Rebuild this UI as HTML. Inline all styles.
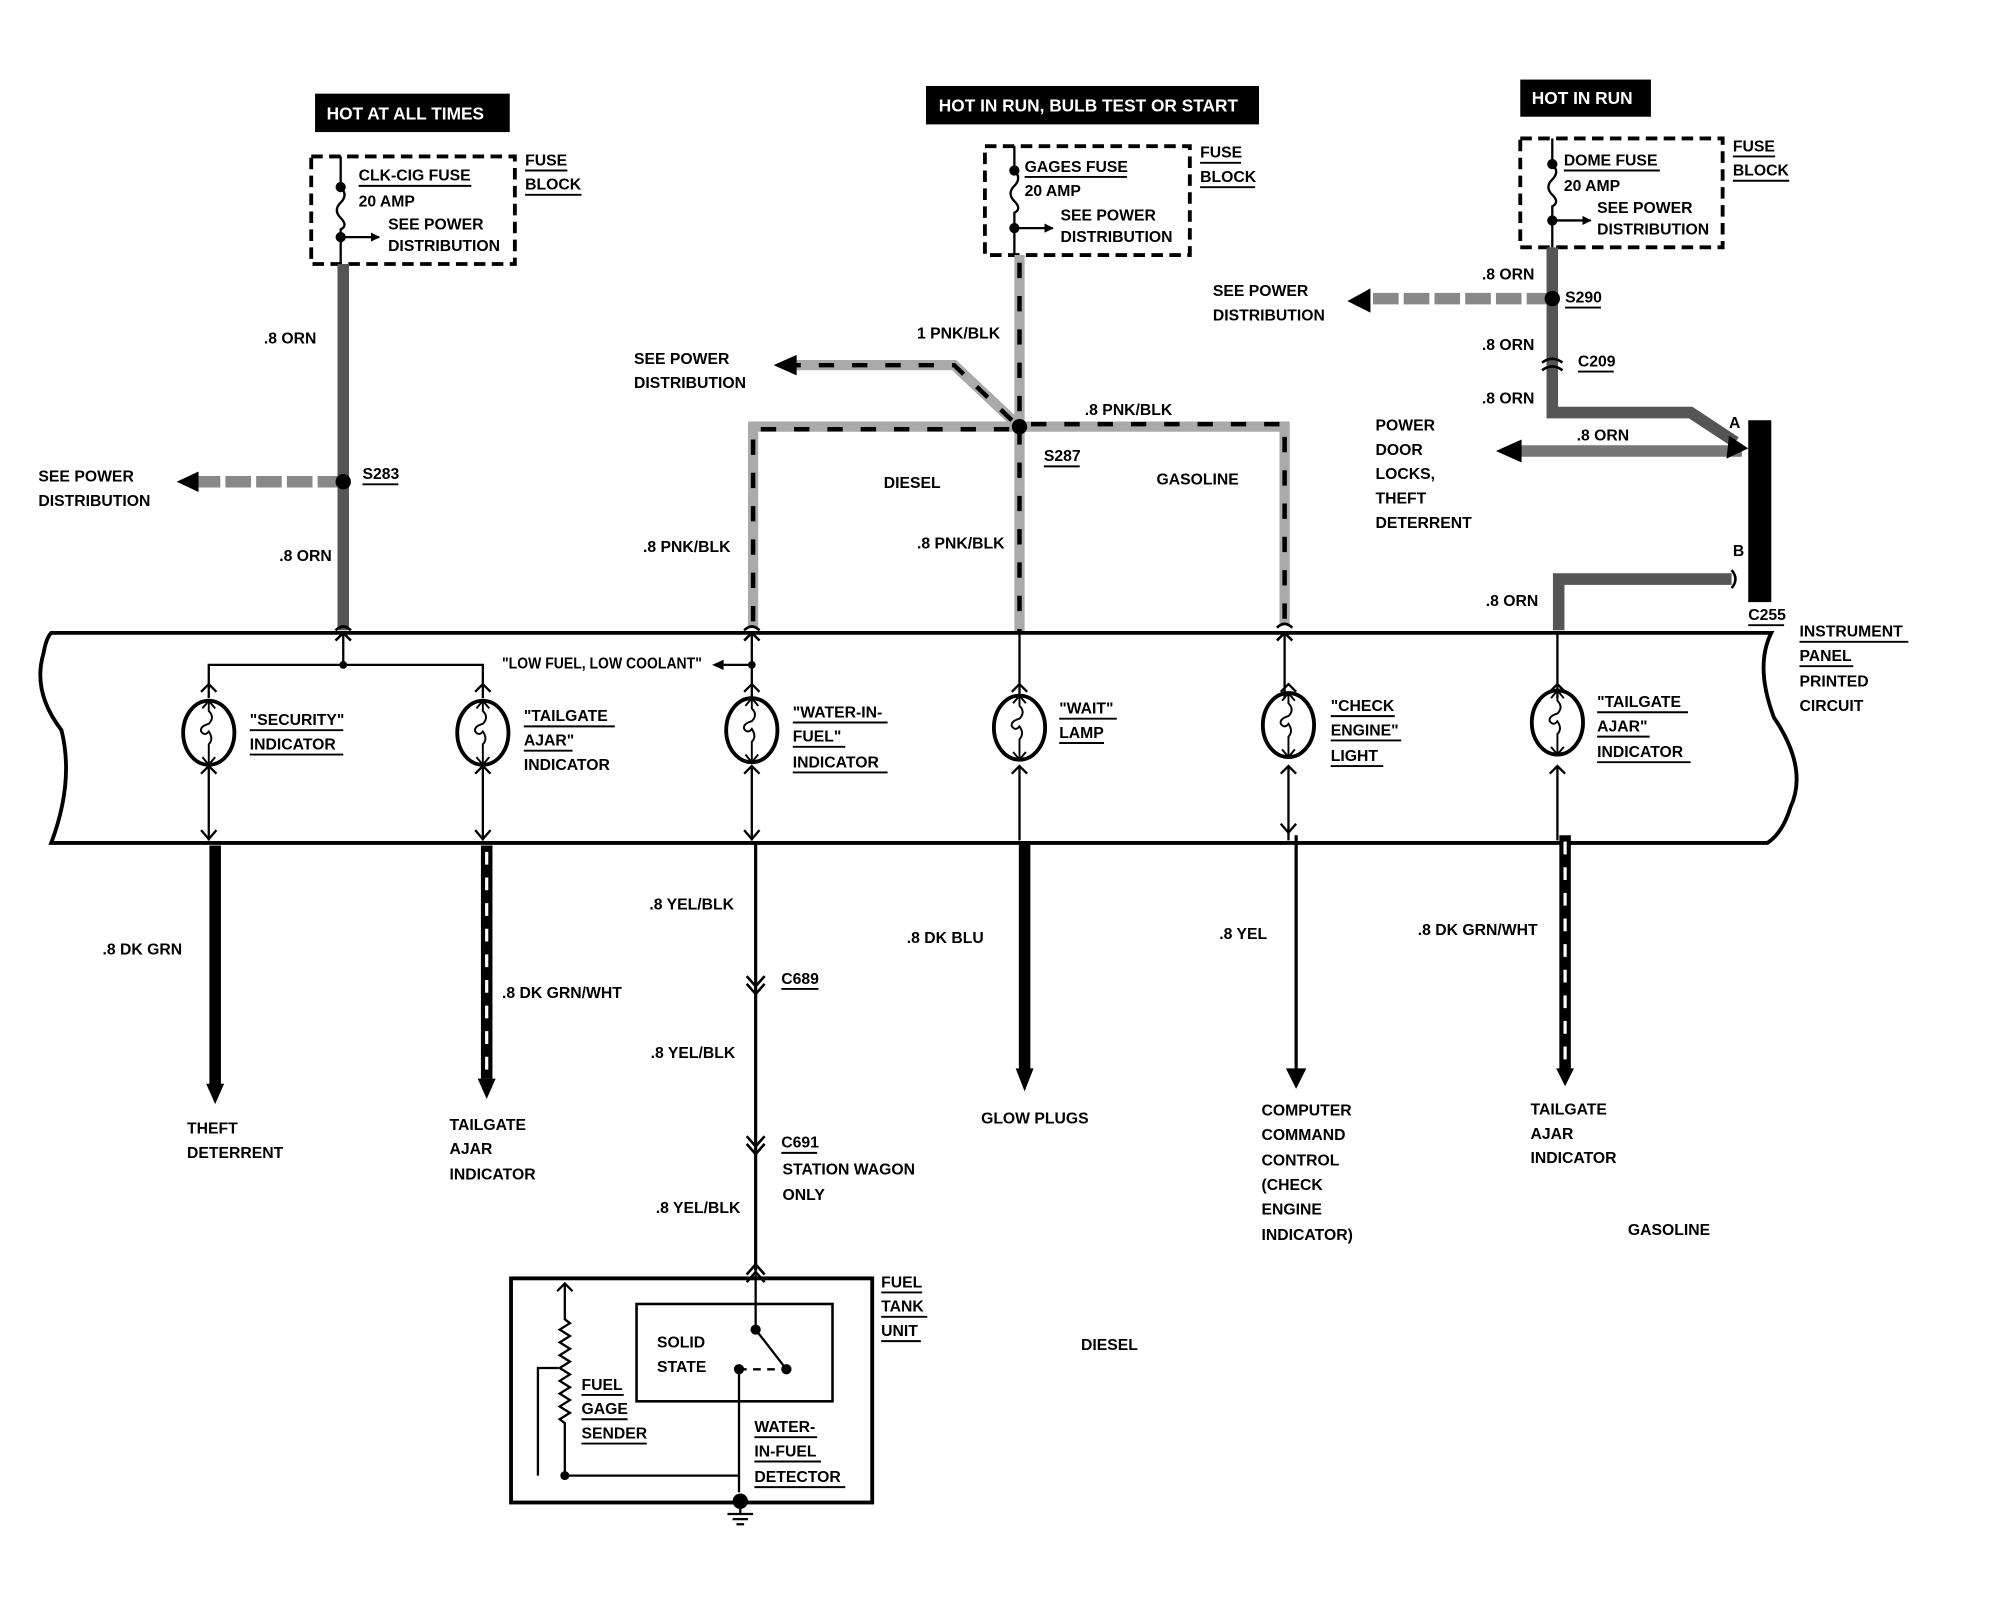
<!DOCTYPE html>
<html><head><meta charset="utf-8"><style>
html,body{margin:0;padding:0;background:#fff;}
svg{display:block}
text{font-family:"Liberation Sans",sans-serif;font-weight:bold;font-size:12.3px;fill:#000}
.w{fill:#fff;font-size:13.5px}
</style></head><body>
<svg width="1998" height="1600" viewBox="0 0 1560 1249" xmlns="http://www.w3.org/2000/svg">
<defs>
<g id="bulb">
<ellipse cx="0" cy="0" rx="20" ry="25" fill="none" stroke="#000" stroke-width="3"/>
<path d="M0,-25 v8 q5,5 0,10 q-7,2 -6,6 q3,4 6,0 q4,6 0,10 v16" fill="none" stroke="#000" stroke-width="1.5"/>
<path d="M-5,-19 L0,-25 L5,-19 M-5,19 L0,25 L5,19" fill="none" stroke="#000" stroke-width="1.5"/>
</g>
<marker id="ah" viewBox="0 0 10 10" refX="9" refY="5" markerWidth="4" markerHeight="4" orient="auto"><path d="M0,0 L10,5 L0,10 z" fill="#000"/></marker>
</defs>

<rect x="246" y="73" width="152" height="30" fill="#000"/><text class="w" x="255" y="93">HOT AT ALL TIMES</text>
<rect x="723" y="67" width="260" height="30" fill="#000"/><text class="w" x="733" y="87">HOT IN RUN, BULB TEST OR START</text>
<rect x="1187" y="62" width="102" height="29" fill="#000"/><text class="w" x="1196" y="81">HOT IN RUN</text>

<g fill="none" stroke="#000" stroke-width="3" stroke-dasharray="9 5">
<rect x="243" y="122" width="159" height="84"/>
<rect x="769" y="114" width="160" height="85"/>
<rect x="1187" y="108" width="158" height="85"/>
</g>
<g fill="none" stroke="#000" stroke-width="1.8">
<path d="M266,122 V146 q6,6 0,12 q-6,6 0,12 q6,6 0,9 V206"/><path d="M266,185 H296" marker-end="url(#ah)"/>
<path d="M792,114 V133 q6,6 0,12 q-6,6 0,12 q6,6 0,9 V199"/><path d="M792,178 H822" marker-end="url(#ah)"/>
<path d="M1212,108 V128 q6,6 0,12 q-6,6 0,12 q6,6 0,9 V193"/><path d="M1212,172 H1242" marker-end="url(#ah)"/>
</g>
<g fill="#000"><circle cx="266" cy="146" r="4"/><circle cx="266" cy="185" r="4"/><circle cx="792" cy="133" r="4"/><circle cx="792" cy="178" r="4"/><circle cx="1212" cy="128" r="4"/><circle cx="1212" cy="172" r="4"/></g>
<text x="280" y="141">CLK-CIG FUSE</text><path d="M280,145 H368" stroke="#000" stroke-width="1.5"/>
<text x="280" y="161" font-size="10.5">20 AMP</text><text x="303" y="179" font-size="10.5">SEE POWER</text><text x="303" y="196" font-size="10.5">DISTRIBUTION</text>
<text x="410" y="129">FUSE</text><text x="410" y="148">BLOCK</text><path d="M410,133 H443 M410,152 H454" stroke="#000" stroke-width="1.5"/>
<text x="800" y="134">GAGES FUSE</text><path d="M800,138 H880" stroke="#000" stroke-width="1.5"/>
<text x="800" y="153" font-size="10.5">20 AMP</text><text x="828" y="172" font-size="10.5">SEE POWER</text><text x="828" y="189" font-size="10.5">DISTRIBUTION</text>
<text x="937" y="123">FUSE</text><text x="937" y="142">BLOCK</text><path d="M937,127 H969 M937,146 H980" stroke="#000" stroke-width="1.5"/>
<text x="1221" y="129">DOME FUSE</text><path d="M1221,133 H1296" stroke="#000" stroke-width="1.5"/>
<text x="1221" y="149" font-size="10.5">20 AMP</text><text x="1247" y="166" font-size="10.5">SEE POWER</text><text x="1247" y="183" font-size="10.5">DISTRIBUTION</text>
<text x="1353" y="118">FUSE</text><text x="1353" y="137">BLOCK</text><path d="M1353,122 H1386 M1353,141 H1397" stroke="#000" stroke-width="1.5"/>

<g fill="none" stroke="#555" stroke-width="9">
<path d="M268,206 V492"/>
<path d="M268,376 H155" stroke="#888" stroke-dasharray="20 4"/>
<path d="M1212,193 V322 H1320 L1355,345"/>
<path d="M1212,233 H1068" stroke="#888" stroke-dasharray="20 4"/>
<path d="M1360,352 H1185" stroke="#777"/>
<path d="M1352,452 H1217 V492"/>
</g>
<g fill="none" stroke="#aaa" stroke-width="8">
<path d="M796,199 V495"/><path d="M796,333 L745,285 H620"/><path d="M796,333 H588 V490"/><path d="M796,333 H1003 V488"/>
</g>
<g fill="none" stroke="#000" stroke-width="3.5" stroke-dasharray="12 14">
<path d="M796,205 V495"/><path d="M790,328 L745,285 H620"/><path d="M788,335 H588 V490"/><path d="M805,331 H1003 V488"/>
</g>
<g fill="#000">
<circle cx="268" cy="376" r="6"/><circle cx="796" cy="333" r="6"/><circle cx="1212" cy="233" r="6"/>
<path d="M155,368 L138,376 L155,384z"/><path d="M622,277 L604,285 L622,293z"/><path d="M1070,225 L1052,235 L1070,244z"/>
<path d="M1188,343 L1168,352 L1188,361z"/><path d="M1350,340 L1365,350 L1348,358z"/>
<rect x="1365" y="328" width="18" height="142"/>
</g>
<path d="M1204,283 q8,-6 16,0 M1204,289 q8,-6 16,0 M1352,445 q6,7 0,14" fill="none" stroke="#000" stroke-width="2"/>

<text x="206" y="268">.8 ORN</text><text x="218" y="438">.8 ORN</text>
<text x="283" y="374">S283</text><path d="M283,378 H311" stroke="#000" stroke-width="1.5"/>
<text x="30" y="376" fill="#333">SEE POWER</text><text x="30" y="395" fill="#333">DISTRIBUTION</text>
<text x="716" y="264">1 PNK/BLK</text>
<text x="495" y="284" fill="#333">SEE POWER</text><text x="495" y="303" fill="#333">DISTRIBUTION</text>
<text x="847" y="324">.8 PNK/BLK</text>
<text x="815" y="360">S287</text><path d="M815,364 H843" stroke="#000" stroke-width="1.5"/>
<text x="690" y="381">DIESEL</text><text x="903" y="378">GASOLINE</text>
<text x="502" y="431">.8 PNK/BLK</text><text x="716" y="428">.8 PNK/BLK</text>
<text x="947" y="231" fill="#333">SEE POWER</text><text x="947" y="250" fill="#333">DISTRIBUTION</text>
<text x="1157" y="218">.8 ORN</text><text x="1222" y="236">S290</text><path d="M1222,240 H1250" stroke="#000" stroke-width="1.5"/>
<text x="1157" y="273">.8 ORN</text><text x="1232" y="286">C209</text><path d="M1232,290 H1260" stroke="#000" stroke-width="1.5"/>
<text x="1157" y="315">.8 ORN</text><text x="1231" y="344">.8 ORN</text>
<text x="1350" y="334">A</text><text x="1353" y="434">B</text>
<text x="1074" y="336">POWER</text><text x="1074" y="355">DOOR</text><text x="1074" y="374">LOCKS,</text><text x="1074" y="393">THEFT</text><text x="1074" y="412">DETERRENT</text>
<text x="1160" y="473">.8 ORN</text>
<text x="1365" y="484">C255</text><path d="M1365,488 H1393" stroke="#000" stroke-width="1.5"/>
<text x="1405" y="497">INSTRUMENT</text><text x="1405" y="516">PANEL</text><text x="1405" y="536">PRINTED</text><text x="1405" y="555">CIRCUIT</text>
<path d="M1405,501 H1490 M1405,520 H1447" stroke="#000" stroke-width="1.5"/>

<path d="M40,494 H1383 Q1370,520 1385,560 Q1412,600 1398,630 Q1392,650 1380,658 H40 Q58,610 48,570 Q25,540 34,510 Q36,498 40,494 Z" fill="none" stroke="#000" stroke-width="3"/>

<g fill="none" stroke="#000" stroke-width="2">
<path d="M262,500 L268,494 L274,500 M262,492 q6,-6 12,0"/>
<path d="M581,500 L587,494 L593,500 M581,492 q6,-6 12,0"/>
<path d="M997,500 L1003,494 L1009,500 M997,490 q6,-6 12,0"/>
</g>
<g fill="none" stroke="#000" stroke-width="1.8">
<path d="M268,494 V519 M163,545 V519 H377 V545"/>
<path d="M587,494 V545 M587,519 H565" />
<path d="M796,494 V545"/><path d="M1003,494 V545"/><path d="M1216,494 V545"/>
<path d="M163,598 V656 M377,598 V656 M587,598 V656 M796,598 V656 M1006,598 V656 M1216,598 V656"/>
<path d="M157,540 L163,534 L169,540 M157,604 L163,598 L169,604 M371,540 L377,534 L383,540 M371,604 L377,598 L383,604 M581,540 L587,534 L593,540 M581,604 L587,598 L593,604 M790,540 L796,534 L802,540 M790,604 L796,598 L802,604 M1000,540 L1006,534 L1012,540 M1000,604 L1006,598 L1012,604 M1210,540 L1216,534 L1222,540 M1210,604 L1216,598 L1222,604"/>
<path d="M157,648 L163,655 L169,648 M371,648 L377,655 L383,648 M581,648 L587,655 L593,648 M1000,643 L1006,650 L1012,643"/>
</g>
<path d="M565,515 L556,519 L565,523z" fill="#000"/>
<circle cx="268" cy="519" r="3" fill="#000"/><circle cx="587" cy="519" r="3" fill="#000"/>
<use href="#bulb" x="163" y="572"/><use href="#bulb" x="377" y="572"/><use href="#bulb" x="587" y="570"/>
<use href="#bulb" x="796" y="568"/><use href="#bulb" x="1006" y="566"/><use href="#bulb" x="1216" y="564"/>
<text x="392" y="522" font-size="10" textLength="156" lengthAdjust="spacingAndGlyphs">"LOW FUEL, LOW COOLANT"</text>
<g stroke="#000" stroke-width="1.5">
<path d="M195,570 H268 M195,589 H268 M409,567 H480 M409,586 H447 M619,564 H693 M619,583 H660 M619,603 H693 M827,561 H872 M827,580 H862 M1039,559 H1089 M1039,578 H1094 M1039,598 H1080 M1247,556 H1318 M1247,575 H1288 M1247,595 H1320"/>
</g>
<text x="195" y="566">"SECURITY"</text><text x="195" y="585">INDICATOR</text>
<text x="409" y="563">"TAILGATE</text><text x="409" y="582">AJAR"</text><text x="409" y="601">INDICATOR</text>
<text x="619" y="560">"WATER-IN-</text><text x="619" y="579">FUEL"</text><text x="619" y="599">INDICATOR</text>
<text x="827" y="557">"WAIT"</text><text x="827" y="576">LAMP</text>
<text x="1039" y="555">"CHECK</text><text x="1039" y="574">ENGINE"</text><text x="1039" y="594">LIGHT</text>
<text x="1247" y="552">"TAILGATE</text><text x="1247" y="571">AJAR"</text><text x="1247" y="591">INDICATOR</text>

<g fill="none" stroke-width="9">
<path d="M168,660 V848" stroke="#000"/>
<path d="M800,658 V835" stroke="#000"/>
<path d="M380,660 V842" stroke="#000"/><path d="M380,665 V842" stroke="#fff" stroke-width="2.5" stroke-dasharray="10 10"/>
<path d="M1222,652 V835" stroke="#000"/><path d="M1222,657 V835" stroke="#fff" stroke-width="2.5" stroke-dasharray="10 10"/>
</g>
<path d="M590,658 V992 M1012,652 V836" fill="none" stroke="#000" stroke-width="2.5"/>
<g fill="#000">
<path d="M161,846 L168,862 L175,846z"/><path d="M373,842 L380,858 L387,842z"/><path d="M793,834 L800,852 L807,834z"/>
<path d="M1004,834 L1012,850 L1020,834z"/><path d="M1215,834 L1222,848 L1229,834z"/>
</g>
<path d="M583,762 L590,770 L597,762 M583,768 L590,776 L597,768 M583,887 L590,895 L597,887 M583,893 L590,901 L597,893 M583,995 L590,987 L597,995 M583,1001 L590,993 L597,1001" fill="none" stroke="#000" stroke-width="2"/>

<text x="80" y="745">.8 DK GRN</text><text x="392" y="779">.8 DK GRN/WHT</text>
<text x="507" y="710">.8 YEL/BLK</text><text x="610" y="768">C689</text><path d="M610,772 H639" stroke="#000" stroke-width="1.5"/>
<text x="508" y="826">.8 YEL/BLK</text><text x="610" y="896">C691</text><path d="M610,900 H638" stroke="#000" stroke-width="1.5"/>
<text x="611" y="917">STATION WAGON</text><text x="611" y="937">ONLY</text><text x="512" y="947">.8 YEL/BLK</text>
<text x="708" y="736">.8 DK BLU</text><text x="952" y="733">.8 YEL</text><text x="1107" y="730">.8 DK GRN/WHT</text>
<text x="146" y="885">THEFT</text><text x="146" y="904">DETERRENT</text>
<text x="351" y="882">TAILGATE</text><text x="351" y="901">AJAR</text><text x="351" y="921">INDICATOR</text>
<text x="766" y="877">GLOW PLUGS</text>
<text x="985" y="871">COMPUTER</text><text x="985" y="890">COMMAND</text><text x="985" y="910">CONTROL</text><text x="985" y="929">(CHECK</text><text x="985" y="948">ENGINE</text><text x="985" y="968">INDICATOR)</text>
<text x="1195" y="870">TAILGATE</text><text x="1195" y="889">AJAR</text><text x="1195" y="908">INDICATOR</text>
<text x="1271" y="964">GASOLINE</text><text x="844" y="1054">DIESEL</text>

<rect x="399" y="998" width="282" height="175" fill="none" stroke="#000" stroke-width="3"/>
<rect x="497" y="1018" width="153" height="76" fill="none" stroke="#000" stroke-width="2"/>
<g fill="none" stroke="#000" stroke-width="1.8">
<path d="M590,995 V1038 L614,1069"/><path d="M577,1069 H610" stroke-dasharray="6 5"/>
<path d="M577,1069 V1165"/>
<path d="M441,1002 V1030 l4,3 -8,5 8,5 -8,5 8,5 -8,5 8,5 -8,5 8,5 -8,5 8,5 -8,5 8,5 -8,5 8,5 -8,5 4,3 V1152"/>
<path d="M435,1008 L441,1002 L447,1008"/>
<path d="M441,1152 H577 M420,1152 V1068 H436"/>
<path d="M568,1182 H588 M572,1186 H584 M575,1190 H581 M578,1175 V1182"/>
</g>
<g fill="#000"><circle cx="590" cy="1038" r="4"/><circle cx="614" cy="1069" r="4"/><circle cx="577" cy="1069" r="4"/><circle cx="441" cy="1152" r="3.5"/><circle cx="578" cy="1172" r="6"/></g>
<text x="513" y="1052">SOLID</text><text x="513" y="1071">STATE</text>
<text x="454" y="1085">FUEL</text><text x="454" y="1104">GAGE</text><text x="454" y="1123">SENDER</text>
<text x="589" y="1118">WATER-</text><text x="589" y="1137">IN-FUEL</text><text x="589" y="1157">DETECTOR</text>
<text x="688" y="1005">FUEL</text><text x="688" y="1024">TANK</text><text x="688" y="1043">UNIT</text>
<g stroke="#000" stroke-width="1.5"><path d="M454,1089 H487 M454,1108 H490 M454,1127 H505 M589,1122 H638 M589,1141 H641 M589,1161 H660 M688,1009 H720 M688,1028 H724 M688,1047 H719"/></g>
</svg>
</body></html>
